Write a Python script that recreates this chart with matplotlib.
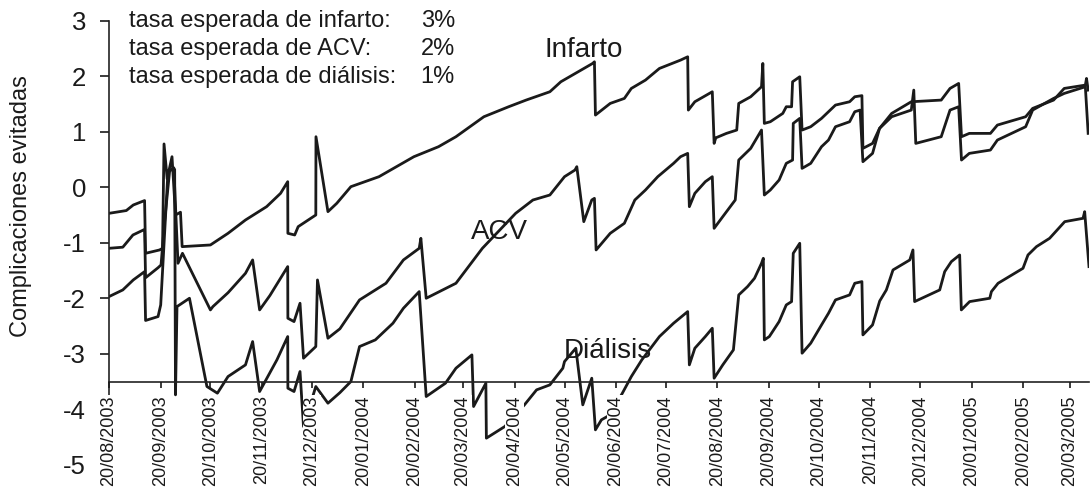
import pandas as pd
import matplotlib
matplotlib.use('Agg')
import matplotlib.pyplot as plt

plt.rcParams['font.family'] = ['Liberation Sans', 'DejaVu Sans']

inicio = pd.Timestamp('2003-08-20')
fin_dias = 589.5

# dias desde el 20/08/2003 y complicaciones evitadas
dias_infarto = [0, 10.4, 14.6, 21.4, 22.0, 30.4, 32.2, 33.1, 35.0, 37.9, 40.0, 43.0, 44.0,
                61.0, 71.6, 82.1, 94.8, 103.2, 107.5, 107.6, 111.7, 113.8, 124.4, 124.5,
                131.7, 137.0, 145.5, 162.4, 172.9, 183.4, 198.2, 208.7, 225.5, 240.4,
                250.9, 265.2, 271.8, 290.9, 292.0, 292.6, 301.5, 310.0, 314.2, 322.7,
                331.1, 343.8, 348.1, 348.5, 352.4, 362.9, 364.0, 365.0, 371.4, 377.6,
                378.8, 386.0, 392.5, 393.3, 394.2, 397.8, 405.3, 407.4, 410.6, 411.2,
                415.5, 416.9, 422.1, 428.6, 437.0, 445.5, 448.6, 452.9, 453.5, 459.3,
                463.5, 470.8, 482.6, 500.6, 505.9, 511.1, 512.8, 517.5, 530.2, 534.4,
                551.4, 555.6, 568.2, 574.6, 587.3, 588.0, 589.0]
val_infarto = [-0.47, -0.42, -0.32, -0.24, -1.19, -1.13, -1.10, 0.78, 0.15, 0.55, -0.50, -0.45, -1.07,
               -1.04, -0.83, -0.59, -0.35, -0.11, 0.10, -0.83, -0.86, -0.71, -0.50, 0.91,
               -0.44, -0.29, 0.01, 0.19, 0.37, 0.55, 0.73, 0.91, 1.27, 1.45,
               1.57, 1.72, 1.90, 2.23, 2.26, 1.30, 1.51, 1.60, 1.78, 1.93,
               2.14, 2.29, 2.35, 1.39, 1.54, 1.72, 0.79, 0.89, 0.97, 1.03,
               1.51, 1.63, 1.81, 2.23, 1.15, 1.18, 1.33, 1.45, 1.45, 1.90,
               1.99, 1.03, 1.09, 1.24, 1.48, 1.54, 1.63, 1.65, 0.70, 0.79,
               1.06, 1.33, 1.54, 1.57, 1.78, 1.87, 0.91, 0.97, 0.97, 1.12,
               1.27, 1.42, 1.57, 1.78, 1.84, 1.96, 1.75]

dias_acv = [0, 8.3, 14.4, 21.4, 22.0, 29.5, 31.3, 33.5, 36.5, 39.0, 41.5, 44.2,
            61.0, 62.5, 71.6, 82.1, 86.4, 90.6, 96.8, 107.5, 107.6, 111.3, 114.9,
            117.0, 124.4, 125.4, 131.7, 138.9, 150.7, 166.6, 177.1, 186.6, 187.6,
            190.8, 208.7, 224.6, 244.6, 255.0, 265.2, 267.6, 274.0, 280.3, 281.4,
            285.6, 290.4, 292.0, 293.0, 301.5, 310.0, 316.3, 322.7, 330.1, 339.6,
            343.8, 348.1, 349.1, 352.4, 358.7, 362.9, 364.0, 369.2, 376.7, 378.8,
            386.0, 392.5, 394.2, 397.8, 403.1, 407.4, 411.2, 411.6, 415.5, 416.9,
            422.1, 428.6, 432.8, 437.0, 445.5, 448.6, 451.8, 453.5, 459.3, 463.5,
            470.8, 482.6, 484.1, 485.3, 500.6, 505.9, 511.1, 512.8, 517.5, 530.2,
            534.4, 551.4, 555.6, 568.2, 574.6, 587.3, 589.0]
val_acv = [-1.10, -1.08, -0.86, -0.76, -1.63, -1.45, -1.40, -0.60, 0.30, 0.35, -1.37, -1.19,
           -2.21, -2.15, -1.90, -1.55, -1.31, -2.21, -1.95, -1.43, -2.36, -2.42, -2.09,
           -3.08, -2.87, -1.67, -2.72, -2.55, -2.03, -1.73, -1.31, -1.10, -0.92,
           -2.00, -1.73, -1.10, -0.47, -0.23, -0.14, -0.05, 0.19, 0.31, 0.37,
           -0.62, -0.23, -0.20, -1.13, -0.83, -0.65, -0.23, -0.05, 0.19, 0.43,
           0.55, 0.61, -0.35, -0.11, 0.10, 0.19, -0.74, -0.53, -0.23, 0.49,
           0.70, 1.03, -0.14, -0.05, 0.13, 0.43, 0.49, 1.15, 1.24, 0.34,
           0.43, 0.73, 0.85, 1.09, 1.18, 1.36, 1.39, 0.46, 0.61, 1.06,
           1.27, 1.39, 1.75, 0.79, 0.91, 1.39, 1.45, 0.49, 0.61, 0.67,
           0.85, 1.09, 1.39, 1.60, 1.69, 1.81, 0.97]

dias_dialisis = [0, 8.3, 14.6, 21.4, 22.0, 29.5, 31.1, 35.5, 39.5, 40.0, 40.9, 48.4,
                 58.9, 65.2, 71.6, 82.1, 86.4, 90.6, 101.0, 107.5, 107.6, 111.3, 114.9,
                 117.0, 124.4, 131.7, 138.9, 145.5, 150.7, 160.2, 170.8, 177.1, 186.6,
                 190.8, 202.4, 208.7, 218.3, 219.3, 226.7, 227.0, 238.1, 249.9, 257.2,
                 265.2, 273.0, 274.0, 280.8, 285.0, 290.4, 292.6, 296.2, 301.5, 308.8,
                 314.2, 320.5, 331.1, 339.6, 348.1, 349.1, 352.4, 358.7, 362.9, 364.0,
                 369.2, 375.6, 378.8, 384.1, 388.3, 392.5, 393.6, 394.2, 397.2, 403.1,
                 407.4, 410.6, 411.6, 415.5, 416.9, 422.1, 428.6, 432.8, 437.0, 445.5,
                 448.6, 452.9, 453.5, 459.3, 463.6, 467.6, 471.6, 481.7, 483.6, 484.6,
                 499.7, 502.7, 506.7, 511.7, 512.7, 517.7, 529.8, 530.8, 534.8, 549.8,
                 552.8, 557.9, 565.8, 574.9, 585.9, 586.9, 589.5]
val_dialisis = [-1.97, -1.85, -1.67, -1.52, -2.40, -2.33, -2.12, 0.30, 0.32, -3.74, -2.15, -2.00,
                -3.59, -3.71, -3.41, -3.20, -2.78, -3.68, -3.11, -2.69, -3.62, -3.68, -3.32,
                -4.31, -3.59, -3.89, -3.70, -3.50, -2.87, -2.75, -2.45, -2.18, -1.88,
                -3.77, -3.53, -3.26, -3.02, -3.95, -3.53, -4.52, -4.31, -3.92, -3.65,
                -3.56, -3.26, -3.14, -2.90, -3.92, -3.44, -4.37, -4.19, -4.10, -3.71,
                -3.41, -3.11, -2.69, -2.45, -2.24, -3.20, -2.90, -2.69, -2.54, -3.44,
                -3.20, -2.93, -1.94, -1.79, -1.64, -1.37, -1.28, -2.75, -2.69, -2.42,
                -2.12, -2.06, -1.19, -1.01, -2.99, -2.81, -2.48, -2.27, -2.03, -1.94,
                -1.73, -1.70, -2.66, -2.48, -2.05, -1.85, -1.49, -1.31, -1.13, -2.06,
                -1.85, -1.52, -1.34, -1.22, -2.21, -2.06, -2.00, -1.88, -1.73, -1.46,
                -1.22, -1.07, -0.92, -0.62, -0.56, -0.44, -1.43]

tasas = ['tasa esperada de infarto:', 'tasa esperada de ACV:', 'tasa esperada de diálisis:']
tasas_pct = ['3%', '2%', '1%']


def fechas(dias):
    return inicio + pd.to_timedelta(dias, unit='D')


fig = plt.figure(figsize=(10.92, 4.92), dpi=100)
ax = fig.add_axes([109 / 1092, 1 - 464.8 / 492, 980 / 1092, 444.1 / 492])

for dias, vals in [(dias_infarto, val_infarto), (dias_acv, val_acv), (dias_dialisis, val_dialisis)]:
    ax.plot(fechas(dias), vals, color='#1a1a1a', linewidth=2, zorder=2)

ax.set_xlim(inicio, inicio + pd.Timedelta(days=fin_dias))
ax.set_ylim(-5, 3)

# etiquetas de las series
ax.text(fechas([285.6])[0], 2.47, 'Infarto', fontsize=20, ha='center', va='center', color='#1a1a1a')
ax.text(fechas([235])[0], -0.8, 'ACV', fontsize=20, ha='center', va='center', color='#1a1a1a')
ax.text(fechas([300])[0], -2.95, 'Diálisis', fontsize=20, ha='center', va='center', color='#1a1a1a')

for i, (t, p) in enumerate(zip(tasas, tasas_pct)):
    yy = [1.0, 0.9356, 0.874][i]
    ax.text(0.0204, yy, t, transform=ax.transAxes, fontsize=17, va='center', ha='left', color='#1a1a1a')
    ax.text(0.353, yy, p, transform=ax.transAxes, fontsize=17, va='center', ha='right', color='#1a1a1a')

# eje x en -3.5
for s in ['top', 'right']:
    ax.spines[s].set_visible(False)
ax.spines['bottom'].set_position(('data', -3.5))
for s in ['bottom', 'left']:
    ax.spines[s].set_linewidth(1.2)
    ax.spines[s].set_color('#222222')

ticks = [inicio + pd.DateOffset(months=i) for i in range(20)]
ax.set_xticks(ticks, labels=[t.strftime('%d/%m/%Y') for t in ticks])
ax.set_yticks(range(-5, 4), labels=[str(v) for v in range(-5, 4)])
ax.tick_params(axis='x', direction='out', length=4, width=1.2, pad=6, labelsize=13,
               labelrotation=90, colors='#1a1a1a')
ax.tick_params(axis='y', direction='out', length=6.5, width=1.2, pad=10, labelsize=18.5,
               colors='#1a1a1a')
for lbl in ax.get_xticklabels():
    lbl.set_bbox(dict(facecolor='white', edgecolor='none', pad=0.5))
ax.xaxis.set_zorder(3)

ax.set_ylabel('Complicaciones evitadas', fontsize=17, color='#1a1a1a')
ax.yaxis.set_label_coords(-0.0786, 0.583)

plt.savefig('out.png', dpi=100)
